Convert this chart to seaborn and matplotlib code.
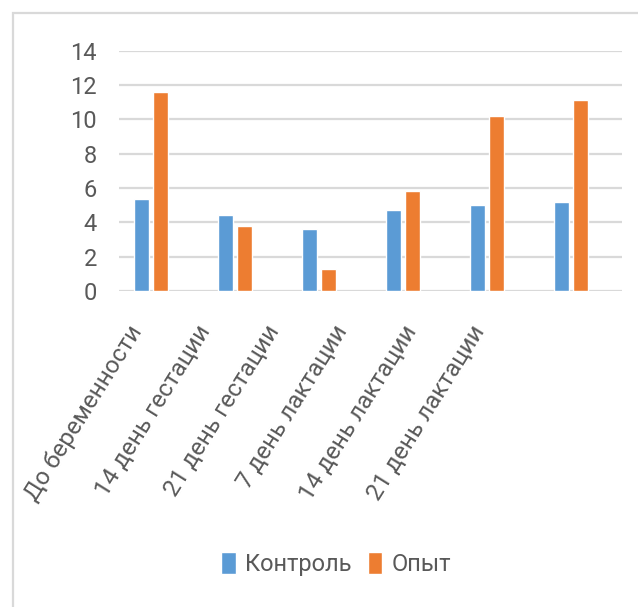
import numpy as np
import pandas as pd
import matplotlib
matplotlib.use('agg')
import matplotlib.pyplot as plt
from matplotlib.patches import Rectangle
from matplotlib.transforms import Affine2D
import seaborn as sns

periods = ["До беременности", "14 день гестации", "21 день гестации",
           "7 день лактации", "14 день лактации", "21 день лактации"]
control = [5.35, 4.4, 3.62, 4.72, 5.03, 5.18]
experiment = [11.57, 3.77, 1.28, 5.8, 10.18, 11.1]
groups = ["Контроль", "Опыт"]
y_ticks = [0, 2, 4, 6, 8, 10, 12, 14]

sns.set_theme(style="white")
plt.rcParams['font.family'] = ['Roboto', 'DejaVu Sans']

blue = "#5B9BD5"
orange = "#ED7D31"
grey_txt = "#595959"
grid_col = "#D9D9D9"

df = pd.DataFrame({
    "period": periods * 2,
    "value": control + experiment,
    "group": [groups[0]] * len(periods) + [groups[1]] * len(periods),
})

fig = plt.figure(figsize=(6.38, 6.07), dpi=100, facecolor='w')
ax = fig.add_axes([0.1865, 0.5206, 0.7885, 0.3962])

# third empty slot keeps the Excel-like left shift of each pair
ax = sns.barplot(data=df, x="period", y="value", hue="group", order=periods,
                 hue_order=groups + ["_empty"],
                 palette={groups[0]: blue, groups[1]: orange, "_empty": "w"},
                 saturation=1, width=0.68, gap=0.21, errorbar=None, ax=ax, zorder=3)

ax.set_ylim(0, 14)
ax.set_yticks(y_ticks)
ax.set_xlim(-0.5, len(periods) - 0.5)
ax.yaxis.grid(True, color=grid_col, linewidth=1.6, zorder=0)
ax.set_axisbelow(True)
for s in ax.spines.values():
    s.set_visible(False)
ax.set_xlabel("")
ax.set_ylabel("")
ax.tick_params(axis='y', length=0, pad=16, labelsize=17, labelcolor=grey_txt)
ax.tick_params(axis='x', length=0, pad=26, labelsize=17.5, labelcolor=grey_txt)
plt.setp(ax.get_xticklabels(), rotation=58, ha='right', va='center', rotation_mode='anchor')
# labels are packed tighter than the bars in the source image
for lab in ax.get_xticklabels():
    lab.set_transform(lab.get_transform() + Affine2D().translate(-28, 0).scale(0.819, 1).translate(28, 0))

handles, labels = ax.get_legend_handles_labels()
ax.legend(handles[:2], labels[:2], loc='center', bbox_to_anchor=(0.527, 0.071),
          bbox_transform=fig.transFigure, ncol=2, frameon=False, fontsize=17,
          handlelength=0.6, handleheight=1.1, handletextpad=0.4, columnspacing=0.7,
          labelcolor=grey_txt)

# chart frame, only top and left edges visible
fig.add_artist(Rectangle((13 / 638, -0.1), 1.2, 1 - 13 / 607 + 0.1, transform=fig.transFigure,
                         fill=False, edgecolor=grid_col, linewidth=1.6))

plt.savefig("out.png", dpi=100)
plt.close()
